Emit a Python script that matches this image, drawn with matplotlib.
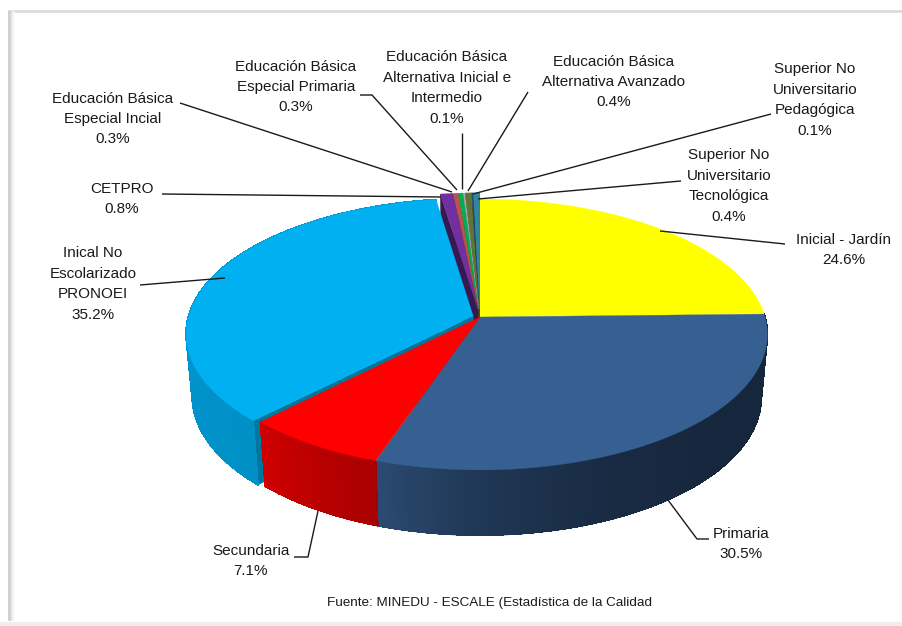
import numpy as np
import matplotlib
matplotlib.use("Agg")
import matplotlib.pyplot as plt
from matplotlib.collections import PolyCollection, LineCollection
from matplotlib.colors import to_rgb

plt.rcParams['font.family'] = ['Liberation Sans', 'DejaVu Sans']

# Data, clockwise from 12 o'clock
categories = ["Inicial - Jardín", "Primaria", "Secundaria", "Inical No\nEscolarizado\nPRONOEI", "CETPRO",
              "Educación Básica\nEspecial Incial", "Educación Básica\nEspecial Primaria",
              "Educación Básica\nAlternativa Inicial e\nIntermedio", "Educación Básica\nAlternativa Avanzado",
              "Superior No\nUniversitario\nPedagógica", "Superior No\nUniversitario\nTecnológica"]
values = [24.6, 30.5, 7.1, 35.2, 0.8, 0.3, 0.3, 0.1, 0.4, 0.1, 0.4]
colors = ['#FFFF00', '#376092', '#FF0000', '#00B0F0', '#7030A0', '#C0504D', '#00B050',
          '#B3A2C7', '#5F7530', '#1F497D', '#31859C']
explode = [0, 0, 0, 0.025, 0.06, 0.06, 0.06, 0.06, 0.06, 0.06, 0.06]

# Label centre and leader line for each category, in image pixels
label_pos = [(844, 250), (741, 544), (251, 561), (93, 284), (122, 199), (113, 119), (296, 87),
             (447, 88), (614, 82), (815, 100), (729, 186)]
leaders = [[(660, 231), (785, 244)], [(668, 500), (697, 539), (709, 539)], [(318, 511), (308, 557), (294, 557)],
           [(225, 278), (140, 285)], [(162, 194), (441, 197)], [(180, 103), (452, 192)],
           [(360, 95), (372, 95), (457, 190)], [(462, 133), (462, 189)], [(528, 92), (468, 191)],
           [(771, 114), (473, 194)], [(681, 181), (478, 199)]]

# Perspective of the disc: top and bottom faces
K = 0.129
TOP = dict(x0=480, y0=317, bx=285, ay=133.2)
BOTTOM = dict(x0=480, y0=379, bx=279, ay=136)


def project(u, v, face):
    w = 1 + K * v
    return face['x0'] + face['bx'] * u / w, face['y0'] - face['ay'] * v / w


def shade(color, f):
    return tuple(c * f for c in to_rgb(color))


# wall shading: colour at start and end of the arc, and how fast it moves between them
wall_colors = {1: ('#16263C', '#2B4B72', 4), 2: ('#A80000', '#CE0000', 1), 3: ('#0090C6', '#009BD4', 1)}

fracs = np.array(values) / sum(values)
edges = np.concatenate([[0], np.cumsum(fracs)]) * 2 * np.pi

fig = plt.figure(figsize=(9.03, 6.26), dpi=100)
ax = fig.add_axes([0, 0, 1, 1])
ax.set_xlim(0, 903)
ax.set_ylim(626, 0)
ax.axis('off')

# page frame
ax.plot([9, 903], [11, 11], color='#DCDCDC', lw=2)
ax.plot([0, 903], [624, 624], color='#EEEEEE', lw=3)
for i, g in enumerate(['#C8C8C8', '#CDCDCD', '#D8D8D8', '#E6E6E6', '#F2F2F2', '#FAFAFA']):
    ax.plot([9.5 + i, 9.5 + i], [12, 620], color=g, lw=1.1)


def slice_offset(i):
    mid = (edges[i] + edges[i + 1]) / 2
    return explode[i] * np.sin(mid), explode[i] * np.cos(mid)


def radial_wall(i, ang, color, zorder):
    du, dv = slice_offset(i)
    pts = [project(du, dv, TOP), project(du + np.sin(ang), dv + np.cos(ang), TOP),
           project(du + np.sin(ang), dv + np.cos(ang), BOTTOM), project(du, dv, BOTTOM)]
    ax.fill(*zip(*pts), color=color, lw=0.3, zorder=zorder)


# inner walls, seen through the gaps of the exploded slices
for i in range(10, 3, -1):
    radial_wall(i, edges[i], shade(colors[i], 0.5), 2)
radial_wall(10, edges[11], '#173F4C', 2)
radial_wall(3, edges[3], '#00779F', 2)

# outer walls with a smooth gradient along the arc
for i, (c0, c1, power) in wall_colors.items():
    angs = np.linspace(edges[i], edges[i + 1], 240)
    du, dv = slice_offset(i)
    u, v = du + np.sin(angs), dv + np.cos(angs)
    xt, yt = project(u, v, TOP)
    xb, yb = project(u, v, BOTTOM)
    polys, cols, segs = [], [], []
    for j in range(len(angs) - 1):
        polys.append([(xt[j], yt[j]), (xt[j + 1], yt[j + 1]), (xb[j + 1], yb[j + 1]), (xb[j], yb[j])])
        segs.append([(xb[j], yb[j]), (xb[j + 1], yb[j + 1])])
        f = (j / (len(angs) - 2)) ** power
        cols.append(tuple((1 - f) * a + f * b for a, b in zip(to_rgb(c0), to_rgb(c1))))
    ax.add_collection(PolyCollection(polys, facecolors=cols, edgecolors=cols, linewidths=0.5,
                                     antialiaseds=False, zorder=3))
    ax.add_collection(LineCollection(segs, colors=cols, linewidths=1.0, zorder=3))

# top faces
for i in range(len(values)):
    angs = np.linspace(edges[i], edges[i + 1], 200)
    du, dv = slice_offset(i)
    x, y = project(du + np.sin(angs), dv + np.cos(angs), TOP)
    ax0, ay0 = project(du, dv, TOP)
    ax.fill(np.r_[ax0, x], np.r_[ay0, y], color=colors[i], lw=0.2, zorder=4)

# labels and leader lines
for name, val, pos, line in zip(categories, values, label_pos, leaders):
    ax.plot(*zip(*line), color='#1A1A1A', lw=1.0, zorder=5, solid_capstyle='butt')
    ax.text(pos[0], pos[1], f"{name}\n{val}%", ha='center', va='center', fontsize=11.0,
            color='#1A1A1A', linespacing=1.58, zorder=6)

ax.text(490, 603, "Fuente: MINEDU - ESCALE (Estadística de la Calidad", ha='center', va='center',
        fontsize=9.7, color='#1A1A1A')

fig.savefig('out.png', dpi=100)
